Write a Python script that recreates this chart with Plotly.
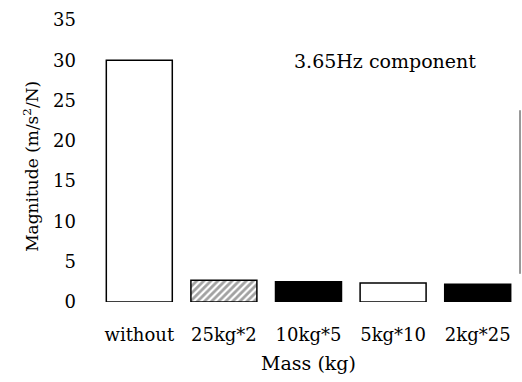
import plotly.graph_objects as go

categories = ["without", "25kg*2", "10kg*5", "5kg*10", "2kg*25"]
magnitude = [30.0, 2.7, 2.5, 2.35, 2.2]
fill_colors = ["white", "white", "black", "white", "black"]
patterns = ["", "/", "", "", ""]
y_ticks = [0, 5, 10, 15, 20, 25, 30, 35]

FONT = "DejaVu Serif"

fig = go.Figure(
    go.Bar(
        x=categories,
        y=magnitude,
        width=0.78,
        marker=dict(
            color=fill_colors,
            line=dict(color="black", width=1.5),
            pattern=dict(shape=patterns, fgcolor="black", size=5, solidity=0.55),
        ),
        showlegend=False,
    )
)

fig.update_layout(
    width=522,
    height=382,
    margin=dict(l=97, r=2, t=20, b=80),
    paper_bgcolor="white",
    plot_bgcolor="white",
    font=dict(family=FONT, size=18, color="black"),
    xaxis=dict(
        showline=False,
        showgrid=False,
        ticks="",
        ticklabelstandoff=20,
        tickfont=dict(size=18),
        title=dict(text="Mass (kg)", font=dict(size=19), standoff=12),
    ),
    yaxis=dict(
        range=[0, 35],
        tickvals=y_ticks,
        showline=False,
        showgrid=False,
        zeroline=False,
        ticks="",
        ticklabelstandoff=20,
        tickfont=dict(size=18),
    ),
    shapes=[
        dict(type="line", xref="paper", yref="paper", x0=1.0, x1=1.0, y0=0.10, y1=0.68,
             line=dict(color="#333333", width=1)),
    ],
    annotations=[
        dict(
            text="3.65Hz component",
            xref="paper", yref="paper",
            x=0.46, y=0.855,
            xanchor="left", yanchor="middle",
            showarrow=False,
            font=dict(size=19, family=FONT),
        ),
        dict(
            text="Magnitude (m/s<sup>2</sup>/N)",
            xref="paper", yref="paper",
            x=-0.158, y=0.48,
            xanchor="center", yanchor="middle",
            textangle=-90,
            showarrow=False,
            font=dict(size=17, family=FONT),
        ),
    ],
)

fig.write_html("out.html")
